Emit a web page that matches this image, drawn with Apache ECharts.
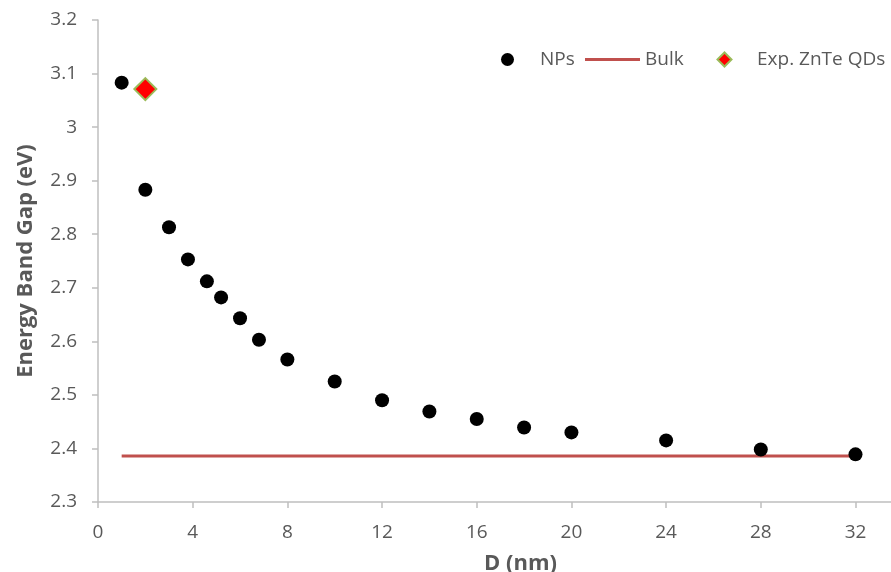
<!DOCTYPE html>
<html>
<head>
<meta charset="utf-8">
<script src="https://cdn.jsdelivr.net/npm/echarts@6/dist/echarts.min.js"></script>
<style>
  html, body { margin: 0; padding: 0; background: #fff; }
  #chart { width: 891px; height: 572px; }
</style>
</head>
<body>
<div id="chart"></div>
<script>
// nanoparticle diameters (nm) and band gaps (eV)
const npSize = [1, 2, 3, 3.8, 4.6, 5.2, 6, 6.8, 8, 10, 12, 14, 16, 18, 20, 24, 28, 32];
const npGap = [3.083, 2.883, 2.813, 2.753, 2.712, 2.682, 2.643, 2.603, 2.566, 2.525, 2.490, 2.469, 2.455, 2.439, 2.430, 2.415, 2.398, 2.389];
const bulkSize = [1, 32];
const bulkGap = [2.386, 2.386];
const expSize = [2];
const expGap = [3.071];
const xTicks = [0, 4, 8, 12, 16, 20, 24, 28, 32];

const font = '"Open Sans", sans-serif';
const grey = '#595959';

// legend icons padded to the full item width so they keep their shape
const dotIcon = 'path://M0,7L0,7M21,7A6.5,6.5 0 1,1 34,7A6.5,6.5 0 1,1 21,7ZM55,7L55,7';
const diamondIcon = 'path://M0,7L0,7M20.5,7L27.5,0L34.5,7L27.5,14ZM55,7L55,7';
const lineIcon = 'path://M0,0L0,0M0,5.5L55,5.5L55,8.5L0,8.5ZM55,14L55,14';

const legendBase = {
    top: 50,
    padding: 0,
    itemWidth: 55,
    itemHeight: 14,
    textStyle: { fontFamily: font, fontSize: 19, color: grey }
};

const chart = echarts.init(document.getElementById('chart'));
chart.setOption({
    backgroundColor: '#fff',
    animation: false,
    textStyle: { fontFamily: font },
    grid: { left: 98, right: 0, top: 20, bottom: 70, containLabel: false, outerBoundsMode: 'none' },
    legend: [
        Object.assign({ left: 480, data: [{ name: 'NPs', icon: dotIcon }] }, legendBase),
        Object.assign({ left: 585, data: [{ name: 'Bulk', icon: lineIcon }] }, legendBase),
        Object.assign({ left: 696, data: [{ name: 'Exp. ZnTe QDs', icon: diamondIcon }] }, legendBase)
    ],
    xAxis: {
        type: 'value',
        min: 0,
        max: 33.5,
        name: 'D (nm)',
        nameLocation: 'middle',
        nameGap: 51,
        nameTextStyle: { fontFamily: font, fontSize: 22, fontWeight: 'bold', color: grey, padding: [0, 0, 0, 52] },
        axisLine: { lineStyle: { color: '#bfbfbf', width: 1.5 } },
        axisTick: { show: true, length: 6, customValues: xTicks, lineStyle: { color: '#bfbfbf', width: 1.5 } },
        axisLabel: { customValues: xTicks, margin: 21, fontSize: 19, color: grey },
        splitLine: { show: false }
    },
    yAxis: {
        type: 'value',
        min: 2.3,
        max: 3.2,
        interval: 0.1,
        name: 'Energy Band Gap (eV)',
        nameLocation: 'middle',
        nameGap: 61,
        nameTextStyle: { fontFamily: font, fontSize: 22, fontWeight: 'bold', color: grey },
        axisLine: { show: true, lineStyle: { color: '#bfbfbf', width: 1.5 } },
        axisTick: { show: true, length: 6, lineStyle: { color: '#bfbfbf', width: 1.5 } },
        axisLabel: {
            margin: 21,
            fontSize: 19,
            color: grey,
            formatter: v => String(Math.round(v * 10) / 10)
        },
        splitLine: { show: false }
    },
    series: [
        {
            name: 'NPs',
            type: 'scatter',
            symbol: 'circle',
            symbolSize: 14,
            itemStyle: { color: '#000', opacity: 1 },
            data: npSize.map((d, i) => [d, npGap[i]]),
            z: 3
        },
        {
            name: 'Bulk',
            type: 'line',
            symbol: 'none',
            lineStyle: { color: '#c0504d', width: 3 },
            itemStyle: { color: '#c0504d' },
            data: bulkSize.map((d, i) => [d, bulkGap[i]]),
            z: 2
        },
        {
            name: 'Exp. ZnTe QDs',
            type: 'scatter',
            symbol: 'diamond',
            symbolSize: 22,
            itemStyle: { color: '#ff0000', borderColor: '#9bbb59', borderWidth: 2, opacity: 1 },
            data: expSize.map((d, i) => [d, expGap[i]]),
            z: 4
        }
    ]
});
</script>
</body>
</html>
